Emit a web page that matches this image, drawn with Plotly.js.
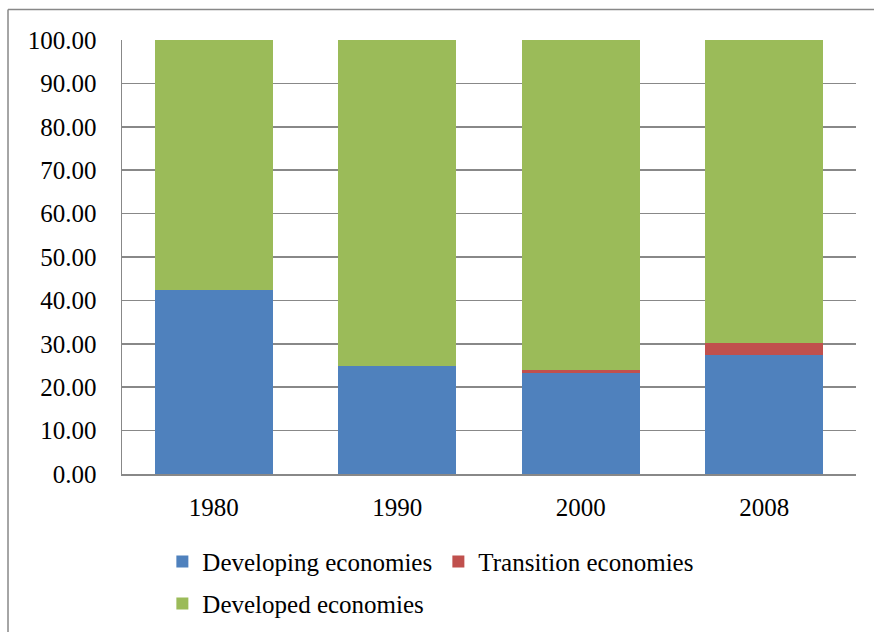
<!DOCTYPE html>
<html>
<head>
<meta charset="utf-8">
<script src="https://cdn.plot.ly/plotly-3.0.1.min.js"></script>
<style>
  html, body { margin: 0; padding: 0; background: #ffffff; }
  #chart { width: 874px; height: 632px; }
</style>
</head>
<body>
<div id="chart"></div>
<script>
const years = ['1980', '1990', '2000', '2008'];
const developing = [42.4, 24.9, 23.2, 27.5];
const transition = [0.0, 0.0, 0.7, 2.7];
const developed = [57.6, 75.1, 76.1, 69.8];
const yTickVals = [0, 10, 20, 30, 40, 50, 60, 70, 80, 90, 100];
const yTickText = ['0.00', '10.00', '20.00', '30.00', '40.00', '50.00', '60.00', '70.00', '80.00', '90.00', '100.00'];

const FONT = '"Liberation Serif", "Times New Roman", serif';
const FS = 25;

const traces = [
  { type: 'bar', name: 'Developing economies', x: years, y: developing,
    marker: { color: '#4F81BD', line: { width: 0 } }, legend: 'legend' },
  { type: 'bar', name: 'Transition economies', x: years, y: transition,
    marker: { color: '#C0504D', line: { width: 0 } }, legend: 'legend' },
  { type: 'bar', name: 'Developed economies', x: years, y: developed,
    marker: { color: '#9BBB59', line: { width: 0 } }, legend: 'legend2' }
];

const gridColor = '#888888';

const layout = {
  width: 874, height: 632,
  margin: { l: 122, r: 18, t: 40, b: 158, autoexpand: false },
  paper_bgcolor: '#ffffff', plot_bgcolor: '#ffffff',
  font: { family: FONT, size: FS, color: '#000000' },
  barmode: 'stack',
  bargap: 0.355,
  showlegend: true,
  xaxis: {
    type: 'category',
    showgrid: false,
    showline: true, linecolor: gridColor, linewidth: 1.5,
    ticks: '', ticklabelstandoff: 10,
    tickfont: { family: FONT, size: FS, color: '#000000' },
    zeroline: false, fixedrange: true
  },
  yaxis: {
    range: [0, 100],
    tickvals: yTickVals, ticktext: yTickText,
    showgrid: true, gridcolor: gridColor, gridwidth: 1.5,
    showline: true, linecolor: gridColor, linewidth: 1.5,
    ticks: '', ticklabelstandoff: 19,
    tickfont: { family: FONT, size: FS, color: '#000000' },
    zeroline: false, fixedrange: true
  },
  legend: {
    orientation: 'h', x: 0.055, xanchor: 'left', y: -0.2023, yanchor: 'middle',
    entrywidth: 231, entrywidthmode: 'pixels', traceorder: 'normal',
    font: { family: FONT, size: FS, color: '#000000' },
    bgcolor: 'rgba(0,0,0,0)', borderwidth: 0
  },
  legend2: {
    orientation: 'h', x: 0.055, xanchor: 'left', y: -0.2989, yanchor: 'middle',
    traceorder: 'normal',
    font: { family: FONT, size: FS, color: '#000000' },
    bgcolor: 'rgba(0,0,0,0)', borderwidth: 0
  },
  shapes: [
    { type: 'line', xref: 'paper', yref: 'paper', x0: -0.1553, x1: -0.1553, y0: 1.0703, y1: -0.40,
      line: { color: '#888888', width: 1.5 } },
    { type: 'line', xref: 'paper', yref: 'paper', x0: -0.1553, x1: 1.04, y0: 1.0703, y1: 1.0703,
      line: { color: '#888888', width: 1.5 } }
  ]
};

Plotly.newPlot('chart', traces, layout, { staticPlot: true, displayModeBar: false });
</script>
</body>
</html>
